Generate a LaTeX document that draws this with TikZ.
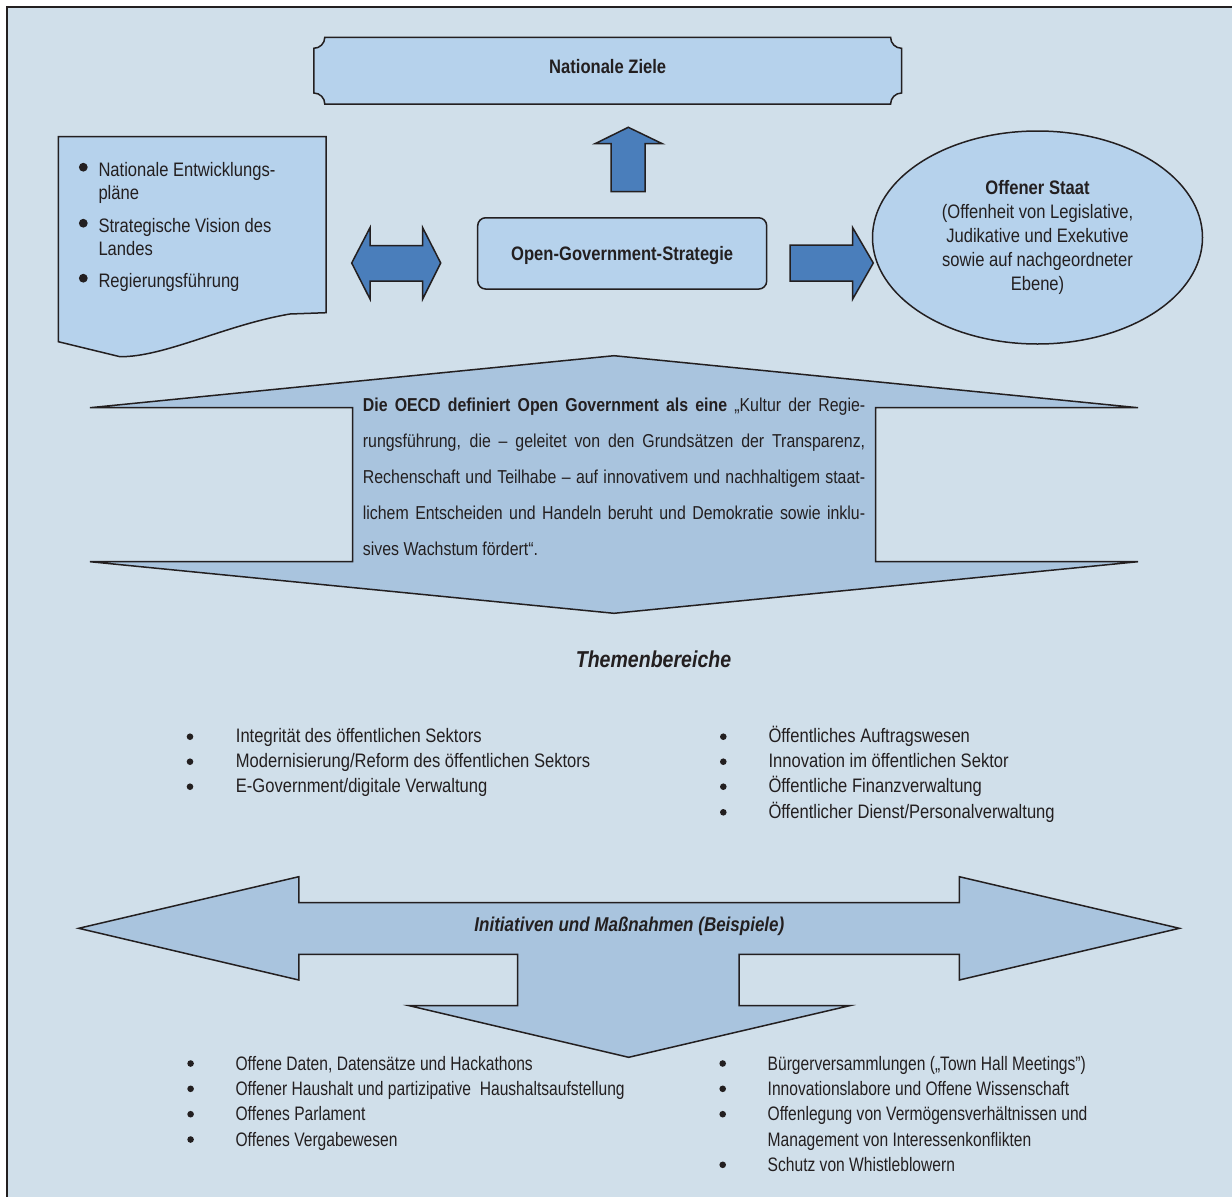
\documentclass[tikz,border=0pt]{standalone}
\usepackage{fontspec}
\setmainfont{Liberation Sans}[FakeStretch=0.85]
\newfontfamily\schmal{Liberation Sans}[FakeStretch=0.8]
\usepackage{xcolor}
\usetikzlibrary{shapes.geometric}
\definecolor{grundblau}{HTML}{D0DFEA}
\definecolor{kastenblau}{HTML}{B6D2EC}
\definecolor{pfeilblau}{HTML}{4A7EBB}
\definecolor{flaechenblau}{HTML}{A9C4DE}
\definecolor{tinte}{HTML}{231F20}

\begin{document}
\begin{tikzpicture}[x=1pt,y=-1pt,
    kontur/.style={draw=tinte, line width=1.5pt, line join=miter},
    kasten/.style={kontur, fill=kastenblau},
    blockpfeil/.style={kontur, fill=pfeilblau},
    flaeche/.style={kontur, fill=flaechenblau},
    zeile/.style={anchor=base west, inner sep=0pt, text=tinte, font=\fontsize{19.5}{24}\selectfont}]

  % ---- Rahmen und Hintergrund ---------------------------------------------
  \useasboundingbox (0,0) rectangle (1232,1197);
  \fill[white] (0,0) rectangle (1232,1197);
  \fill[grundblau] (7,7) rectangle (1240,1205);
  \draw[tinte, line width=2.5pt] (7,1205) -- (7,7) -- (1240,7);

  % ---- Nationale Ziele (Schild mit eingezogenen Ecken) --------------------
  \draw[kasten] (324.8,37.3) -- (890.6,37.3) arc[start angle=180, end angle=270, radius=11pt]
    -- (901.6,93) arc[start angle=90, end angle=180, radius=11pt]
    -- (324.8,104) arc[start angle=0, end angle=90, radius=11pt]
    -- (313.8,48.3) arc[start angle=270, end angle=360, radius=11pt] -- cycle;
  \node[text=tinte, inner sep=0pt, font=\bfseries\fontsize{19.5}{24}\selectfont]
    (ziele) at (607.7,66.7) {Nationale Ziele};

  % Pfeil nach oben
  \draw[blockpfeil] (628.3,127.3) -- (662.3,143.7) -- (645,143.7) -- (645,191.7)
    -- (611,191.7) -- (611,143.7) -- (595,143.7) -- cycle;

  % ---- Dokument links, mit welligem Unterrand -----------------------------
  \draw[kasten] (58.3,341.7) -- (58.3,136.7) -- (326,136.7) -- (326,312.7) -- (290,314)
    .. controls (225,325) and (165,357) .. (120,356.7) -- cycle;
  \fill[tinte] (83.3,167.2) circle (4.4pt);
  \node[zeile] (plan1) at (98.3,176.7) {Nationale Entwicklungs-};
  \node[zeile] (plan2) at (98.3,199.2) {pläne};
  \fill[tinte] (83.3,223.2) circle (4.4pt);
  \node[zeile] (vision1) at (98.3,232.7) {Strategische Vision des};
  \node[zeile] (vision2) at (98.3,255.2) {Landes};
  \fill[tinte] (83.3,278.2) circle (4.4pt);
  \node[zeile] (regierung) at (98.3,287.7) {Regierungsführung};

  % Doppelpfeil zwischen Dokument und Strategie
  \draw[blockpfeil] (351.7,263) -- (370,227.7) -- (370,245.7) -- (422.7,245.7) -- (422.7,227.7)
    -- (440.7,263) -- (422.7,299) -- (422.7,281) -- (370,281) -- (370,299) -- cycle;

  % ---- Strategie in der Mitte ---------------------------------------------
  \node[kasten, rounded corners=8pt, minimum width=289pt, minimum height=71.3pt, text depth=0pt,
        text=tinte, font=\bfseries\fontsize{19.5}{24}\selectfont]
    (strategie) at (622.2,253.4) {Open-Government-Strategie};

  % Pfeil nach rechts
  \draw[blockpfeil] (790,245) -- (852.7,245) -- (852.7,227.7) -- (873.3,263)
    -- (852.7,299) -- (852.7,281) -- (790,281) -- cycle;

  % ---- Offener Staat --------------------------------------------------------
  \node[kasten, ellipse, minimum width=330pt, minimum height=213pt, inner sep=0pt,
        align=center, text=tinte, font=\fontsize{19.5}{24}\selectfont]
    (staat) at (1037.5,237.5) {\textbf{Offener Staat}\\(Offenheit von Legislative,\\Judikative und Exekutive\\sowie auf nachgeordneter\\Ebene)};

  % ---- Grosser Pfeil mit der OECD-Definition -------------------------------
  \draw[flaeche] (614,355.7) -- (1138,407.7) -- (875.7,407.7) -- (875.7,561.7) -- (1138,561.7)
    -- (614,613.3) -- (90,561.7) -- (352.5,561.7) -- (352.5,407.7) -- (90,407.7) -- cycle;
  \node[anchor=base west, inner sep=0pt, text width=502.3pt, align=justify, text=tinte,
        font=\fontsize{18.7}{36}\selectfont]
    (oecd) at (362.7,411) {\tolerance=9999\hyphenpenalty=10000
      \textbf{Die OECD definiert Open Government als eine} „Kultur der Regie-\linebreak
      rungsführung, die – geleitet von den Grundsätzen der Transparenz,\linebreak
      Rechenschaft und Teilhabe – auf innovativem und nachhaltigem staat-\linebreak
      lichem Entscheiden und Handeln beruht und Demokratie sowie inklu-\linebreak
      sives Wachstum fördert“.};

  % ---- Themenbereiche -------------------------------------------------------
  \node[zeile, anchor=base, font=\bfseries\itshape\fontsize{23}{28}\selectfont]
    (themen) at (653.5,667) {Themenbereiche};

  \foreach \y/\nm/\txt in {742.7/tl1/{Integrität des öffentlichen Sektors},
                           767.7/tl2/{Modernisierung/Reform des öffentlichen Sektors},
                           792.7/tl3/{E-Government/digitale Verwaltung}}{
    \fill[tinte] (190,\y-6) circle (3.3pt);
    \node[zeile] (\nm) at (235.7,\y) {\txt};
  }
  \foreach \y/\nm/\txt in {742.7/tr1/{Öffentliches Auftragswesen},
                           767.7/tr2/{Innovation im öffentlichen Sektor},
                           792.7/tr3/{Öffentliche Finanzverwaltung},
                           818.3/tr4/{Öffentlicher Dienst/Personalverwaltung}}{
    \fill[tinte] (723.3,\y-6) circle (3.3pt);
    \node[zeile] (\nm) at (768.3,\y) {\txt};
  }

  % ---- Initiativen: Pfeil nach links, rechts und unten ----------------------
  \draw[flaeche] (78.7,928.3) -- (298.8,876.7) -- (298.8,902.7) -- (959.3,902.7) -- (959.3,876.7)
    -- (1179.4,928.3) -- (959.3,980) -- (959.3,954.3) -- (739.1,954.3) -- (739.1,1005.7)
    -- (849.6,1005.7) -- (628.7,1057.3) -- (409.3,1005.7) -- (517.5,1005.7) -- (517.5,954.3)
    -- (298.8,954.3) -- (298.8,980) -- cycle;
  \node[zeile, anchor=base, font=\bfseries\itshape\fontsize{20}{24}\selectfont]
    (initiativen) at (629.4,931) {Initiativen und Maßnahmen (Beispiele)};

  % Beispiele, etwas schmaler gesetzt als die Themen
  \begin{scope}[zeile/.append style={font=\schmal\fontsize{19.5}{24}\selectfont}]
    \foreach \y/\nm/\txt in {1070/bl1/{Offene Daten, Datensätze und Hackathons},
                             1095.3/bl2/{Offener Haushalt und partizipative\ \ Haushaltsaufstellung},
                             1120.7/bl3/{Offenes Parlament},
                             1146/bl4/{Offenes Vergabewesen}}{
      \fill[tinte] (190.6,\y-6.5) circle (3.3pt);
      \node[zeile] (\nm) at (235.4,\y) {\txt};
    }
    \foreach \y/\nm/\txt in {1070/br1/{Bürgerversammlungen („Town Hall Meetings”)},
                             1095.3/br2/{Innovationslabore und Offene Wissenschaft},
                             1120.7/br3/{Offenlegung von Vermögensverhältnissen und},
                             1171.3/br5/{Schutz von Whistleblowern}}{
      \fill[tinte] (722.7,\y-6.5) circle (3.3pt);
      \node[zeile] (\nm) at (767.5,\y) {\txt};
    }
    \node[zeile] (br4) at (767.5,1146) {Management von Interessenkonflikten};
  \end{scope}

\end{tikzpicture}
\end{document}
